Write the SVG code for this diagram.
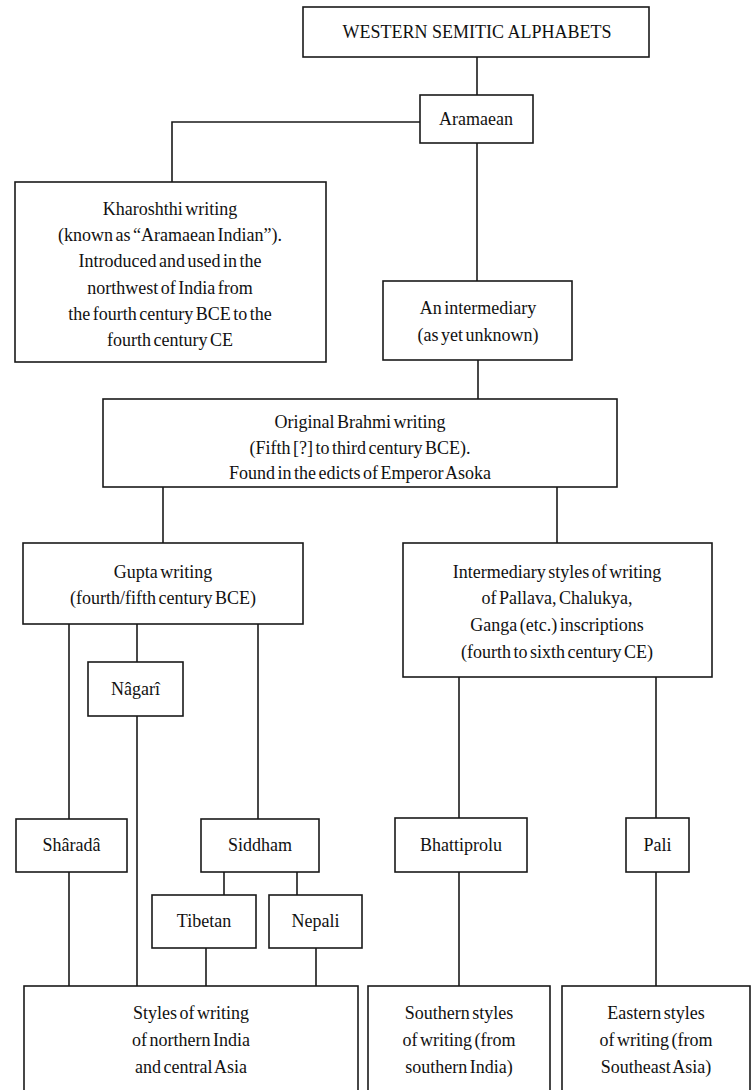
<svg xmlns="http://www.w3.org/2000/svg" width="754" height="1090" viewBox="0 0 754 1090">
<style>
.box{fill:#fff;stroke:#1a1a1a;stroke-width:1.6}
.t{font-family:"Liberation Serif","Times New Roman",serif;font-size:18px;word-spacing:-2px;fill:#111;text-anchor:middle}
.c{fill:none;stroke:#1a1a1a;stroke-width:1.6}
</style>
<rect width="754" height="1090" fill="#fff"/>
<g id="connectors">
<path class="c" d="M477 57V95"/>
<path class="c" d="M420 122H172V182"/>
<path class="c" d="M477 143V281"/>
<path class="c" d="M478 360V399"/>
<path class="c" d="M163 487V543"/>
<path class="c" d="M557 487V543"/>
<path class="c" d="M69 624V819"/>
<path class="c" d="M137 624V662"/>
<path class="c" d="M258 624V819"/>
<path class="c" d="M137 716V986"/>
<path class="c" d="M69 872V986"/>
<path class="c" d="M224 872V895"/>
<path class="c" d="M297 872V895"/>
<path class="c" d="M206 948V986"/>
<path class="c" d="M316 948V986"/>
<path class="c" d="M459 677V818"/>
<path class="c" d="M656 677V818"/>
<path class="c" d="M459 872V986"/>
<path class="c" d="M656 872V986"/>
</g>
<g id="western">
<rect class="box" x="303" y="7" width="346" height="50"/>
<text class="t" x="477" y="38" style="word-spacing:0">WESTERN SEMITIC ALPHABETS</text>
</g>
<g id="aramaean">
<rect class="box" x="420" y="95" width="113" height="48"/>
<text class="t" x="476" y="125">Aramaean</text>
</g>
<g id="kharoshthi">
<rect class="box" x="15" y="182" width="311" height="180"/>
<text class="t" x="170"><tspan x="170" y="215">Kharoshthi writing</tspan><tspan x="170" y="241">(known as “Aramaean Indian”).</tspan><tspan x="170" y="267">Introduced and used in the</tspan><tspan x="170" y="294">northwest of India from</tspan><tspan x="170" y="320">the fourth century BCE to the</tspan><tspan x="170" y="346">fourth century CE</tspan></text>
</g>
<g id="intermediary">
<rect class="box" x="383" y="281" width="189" height="79"/>
<text class="t" x="478"><tspan x="478" y="314">An intermediary</tspan><tspan x="478" y="341">(as yet unknown)</tspan></text>
</g>
<g id="brahmi">
<rect class="box" x="103" y="399" width="514" height="88"/>
<text class="t" x="360"><tspan x="360" y="428">Original Brahmi writing</tspan><tspan x="360" y="454">(Fifth [?] to third century BCE).</tspan><tspan x="360" y="479">Found in the edicts of Emperor Asoka</tspan></text>
</g>
<g id="gupta">
<rect class="box" x="23" y="543" width="280" height="81"/>
<text class="t" x="163"><tspan x="163" y="578">Gupta writing</tspan><tspan x="163" y="604">(fourth/fifth century BCE)</tspan></text>
</g>
<g id="intstyles">
<rect class="box" x="403" y="543" width="309" height="134"/>
<text class="t" x="557"><tspan x="557" y="578">Intermediary styles of writing</tspan><tspan x="557" y="604">of Pallava, Chalukya,</tspan><tspan x="557" y="631">Ganga (etc.) inscriptions</tspan><tspan x="557" y="658">(fourth to sixth century CE)</tspan></text>
</g>
<g id="nagari">
<rect class="box" x="88" y="662" width="95" height="54"/>
<text class="t" x="135.5" y="695">Nâgarî</text>
</g>
<g id="sharada">
<rect class="box" x="16" y="819" width="111" height="53"/>
<text class="t" x="71.5" y="851">Shâradâ</text>
</g>
<g id="siddham">
<rect class="box" x="201" y="819" width="118" height="53"/>
<text class="t" x="260" y="851">Siddham</text>
</g>
<g id="bhattiprolu">
<rect class="box" x="395" y="818" width="132" height="54"/>
<text class="t" x="461" y="851">Bhattiprolu</text>
</g>
<g id="pali">
<rect class="box" x="626" y="818" width="63" height="54"/>
<text class="t" x="657.5" y="851">Pali</text>
</g>
<g id="tibetan">
<rect class="box" x="152" y="895" width="104" height="53"/>
<text class="t" x="204" y="927">Tibetan</text>
</g>
<g id="nepali">
<rect class="box" x="269" y="895" width="93" height="53"/>
<text class="t" x="315.5" y="927">Nepali</text>
</g>
<g id="northern">
<rect class="box" x="24" y="986" width="334" height="120"/>
<text class="t" x="191"><tspan x="191" y="1019">Styles of writing</tspan><tspan x="191" y="1046">of northern India</tspan><tspan x="191" y="1073">and central Asia</tspan></text>
</g>
<g id="southern">
<rect class="box" x="368" y="986" width="182" height="120"/>
<text class="t" x="459"><tspan x="459" y="1019">Southern styles</tspan><tspan x="459" y="1046">of writing (from</tspan><tspan x="459" y="1073">southern India)</tspan></text>
</g>
<g id="eastern">
<rect class="box" x="562" y="986" width="188" height="120"/>
<text class="t" x="656"><tspan x="656" y="1019">Eastern styles</tspan><tspan x="656" y="1046">of writing (from</tspan><tspan x="656" y="1073">Southeast Asia)</tspan></text>
</g>
</svg>
